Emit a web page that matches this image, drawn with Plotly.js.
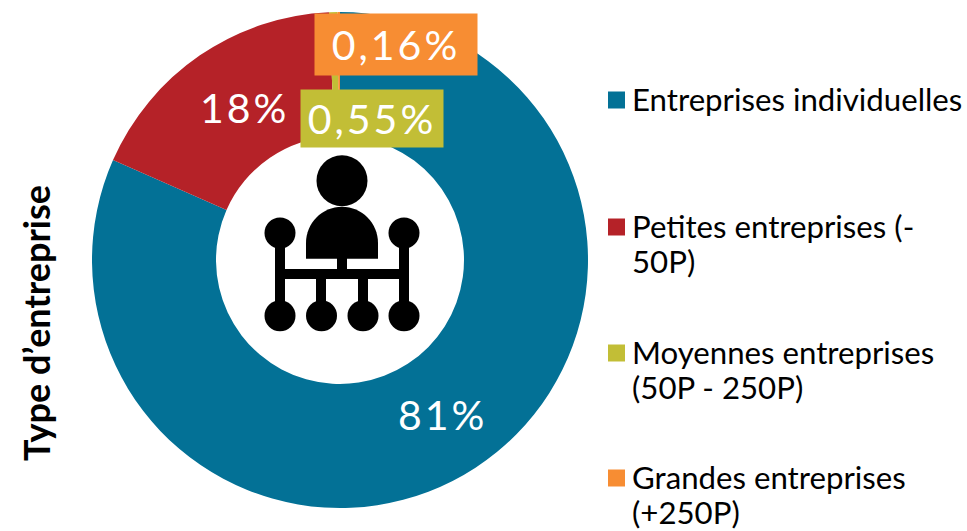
<!DOCTYPE html>
<html><head><meta charset="utf-8">
<script src="https://cdn.plot.ly/plotly-3.0.1.min.js"></script>
<style>html,body{margin:0;padding:0;background:#fff}</style></head>
<body><div id="chart" style="width:967px;height:531px"></div>
<script>
const categories = [['Entreprises individuelles'],['Petites entreprises (-','50P)'],['Moyennes entreprises','(50P - 250P)'],['Grandes entreprises','(+250P)']];
const sliceValues = [81.6,17.69,0.55,0.16];
const sliceColors = ['#037196','#B52228','#C2BE36','#F78D33'];
const valueLabels = ['81%','18%','0,55%','0,16%'];
const axisLabel = 'Type d’entreprise';
const W=967,H=531;
const px=x=>x/W, py=y=>1-y/H;
const font='Lato, sans-serif';
function circle(cx,cy,r){return {type:'circle',xref:'paper',yref:'paper',x0:px(cx-r),x1:px(cx+r),y0:py(cy+r),y1:py(cy-r),fillcolor:'#000',line:{width:0}};}
function rect(x0,y0,x1,y1,c){return {type:'rect',xref:'paper',yref:'paper',x0:px(x0),x1:px(x1),y0:py(y1),y1:py(y0),fillcolor:c||'#000',line:{width:0}};}
function dome(){const f=(x,y)=>px(x).toFixed(5)+','+py(y).toFixed(5);
 return {type:'path',xref:'paper',yref:'paper',fillcolor:'#000',line:{width:0},
  path:'M'+f(306,258.7)+'L'+f(306,243)+'C'+f(306,223)+' '+f(322,206.7)+' '+f(342,206.7)+'C'+f(362,206.7)+' '+f(378,223)+' '+f(378,243)+'L'+f(378,258.7)+'Z'};}
const shapes=[circle(342,180.7,25.5),dome(),rect(337,258,347,270),rect(275,269,409,279),
 rect(275,235,285,310),rect(399,235,409,310),rect(316,279,326,310),rect(358,279,368,310),
 circle(280,233,15.5),circle(404,233,15.5),circle(280,315.7,15.5),circle(321.5,315.7,15.5),circle(363,315.7,15.5),circle(404,315.7,15.5)];
function lab(i,x,y,extra){return Object.assign({text:'<span style="letter-spacing:3px">'+valueLabels[i]+'</span>',xref:'paper',yref:'paper',x:px(x),y:py(y),xanchor:'center',yanchor:'middle',showarrow:false,font:{family:font,size:41,color:'#fff'}},extra||{});}
const annotations=[
 lab(0,442,414),lab(1,244,107),
 lab(2,372,118.5,{bgcolor:sliceColors[2],width:142,height:57,borderpad:0}),
 lab(3,396,44.5,{bgcolor:sliceColors[3],width:162,height:61,borderpad:0}),
 {text:'<b>'+axisLabel+'</b>',xref:'paper',yref:'paper',x:px(36),y:py(323),xanchor:'center',yanchor:'middle',showarrow:false,textangle:-90,font:{family:font,size:36,color:'#000'}}
];
const legendTop=[100,227,353,478];
categories.forEach((lines,i)=>{
  const y=legendTop[i];
  shapes.push(rect(608,y-8.5,625,y+8.5,sliceColors[i]));
  lines.forEach((t,j)=>annotations.push({text:t,xref:'paper',yref:'paper',x:px(631),y:py(y+j*35-1),xanchor:'left',yanchor:'middle',showarrow:false,height:34,borderpad:0,font:{family:font,size:31.2,color:'#000'}}));
});
Plotly.newPlot('chart',[{type:'pie',labels:categories.map(l=>l.join(' ')),values:sliceValues,hole:0.5,sort:false,direction:'clockwise',rotation:0,
 marker:{colors:sliceColors,line:{width:0}},textinfo:'none',hoverinfo:'label+percent',
 domain:{x:[92/W,588/W],y:[1-508/H,1-12/H]}}],
 {width:W,height:H,margin:{l:0,r:0,t:0,b:0},paper_bgcolor:'#fff',showlegend:false,shapes,annotations},{displayModeBar:false});
</script></body></html>
